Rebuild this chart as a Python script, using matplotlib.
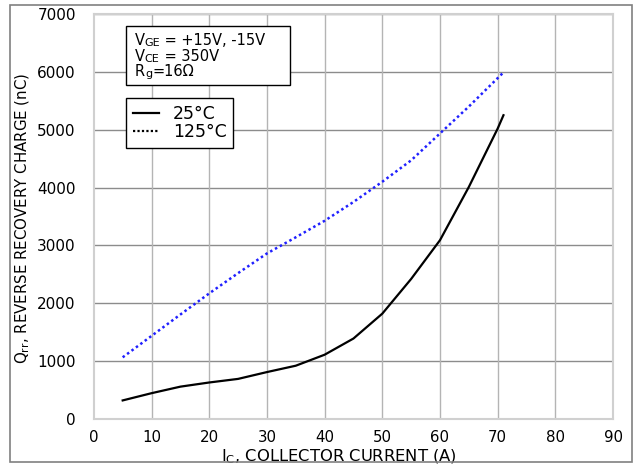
"""Qrr vs Ic: carga de recuperacion inversa del diodo."""

import matplotlib.pyplot as plt
from matplotlib.lines import Line2D
from matplotlib.patches import Rectangle

plt.rcParams["font.family"] = ["DejaVu Sans"]

# Curva a 25 grados C
ic_25 = [5, 10, 15, 20, 25, 30, 35, 40, 45, 50, 55, 60, 65, 70, 71]
qrr_25 = [320, 445, 558, 630, 692, 810, 920, 1110, 1390, 1820, 2420, 3090, 4010, 5020, 5250]

# Curva a 125 grados C
ic_125 = [5, 10, 15, 20, 25, 30, 35, 40, 45, 50, 55, 60, 65, 71]
qrr_125 = [1065, 1435, 1805, 2170, 2520, 2860, 3140, 3425, 3750, 4100, 4470, 4935, 5400, 5990]

x_ticks = [0, 10, 20, 30, 40, 50, 60, 70, 80, 90]
y_ticks = [0, 1000, 2000, 3000, 4000, 5000, 6000, 7000]

# Condiciones de ensayo: (letra, indice, resto)
cond_lines = [("V", "GE", " = +15V, -15V"), ("V", "CE", " = 350V"), ("R", "g", "=16\u03a9")]
legend_labels = ["25\u00b0C", "125\u00b0C"]

fig = plt.figure(figsize=(6.34, 4.66), dpi=100)
ax = fig.add_axes([0.148, 0.101, 0.819, 0.869])

# Marco exterior
fig.patches.append(Rectangle((10 / 634, 4 / 466), 622 / 634, 457 / 466,
                             transform=fig.transFigure, fill=False,
                             edgecolor="#808080", linewidth=1.2))

ax.plot(ic_125, qrr_125, color="#2020ff", linestyle=(0, (1, 1.2)), linewidth=1.8)
ax.plot(ic_25, qrr_25, color="black", linewidth=1.6)

ax.set_xlim(0, 90)
ax.set_ylim(0, 7000)
ax.set_xticks(x_ticks)
ax.set_yticks(y_ticks)
ax.tick_params(length=0, labelsize=11)
ax.tick_params(axis="y", pad=13)
ax.tick_params(axis="x", pad=8, labelsize=10.8)

for y in y_ticks[1:]:
    ax.axhline(y, color="#8c8c8c", linewidth=1.0, zorder=0)
for x in x_ticks[1:]:
    ax.axvline(x, color="#b4b4b4", linewidth=1.0, zorder=0)
for s in ax.spines.values():
    s.set_color("#d0d0d0")
    s.set_linewidth(1.5)

ax.set_xlabel(r"I$_\mathregular{C}$, COLLECTOR CURRENT (A)", fontsize=11.8)
ax.xaxis.set_label_coords(0.472, -0.071)
ax.set_ylabel(r"Q$_\mathregular{rr}$, REVERSE RECOVERY CHARGE (nC)", fontsize=10.8)
ax.yaxis.set_label_coords(-0.12, 0.495)

# Caja de condiciones
ax.add_patch(Rectangle((5.5, 5769), 28.5, 1019, facecolor="white",
                       edgecolor="black", linewidth=1.0, zorder=3))
for i, (main, sub, rest) in enumerate(cond_lines):
    t1 = ax.text(7.1, 6460 - i * 265, main, fontsize=10.5, va="baseline", zorder=4)
    t2 = ax.annotate(sub, xy=(1, 0), xycoords=t1, fontsize=8, va="bottom", zorder=4)
    ax.annotate(rest, xy=(1, 0), xycoords=t2, fontsize=10.5, va="bottom", zorder=4)

handles = [Line2D([], [], color="black", linewidth=1.6),
           Line2D([], [], color="black", linestyle=(0, (1, 1)), linewidth=1.6)]
leg = ax.legend(handles, legend_labels, loc="upper left",
                bbox_to_anchor=(0.0617, 0.7926), fontsize=12.5, fancybox=False,
                framealpha=1, edgecolor="black", handlelength=1.5,
                handletextpad=0.8, borderpad=0.4, labelspacing=0.02,
                borderaxespad=0)
leg.get_frame().set_linewidth(1.0)

fig.savefig("out.png", dpi=100)
